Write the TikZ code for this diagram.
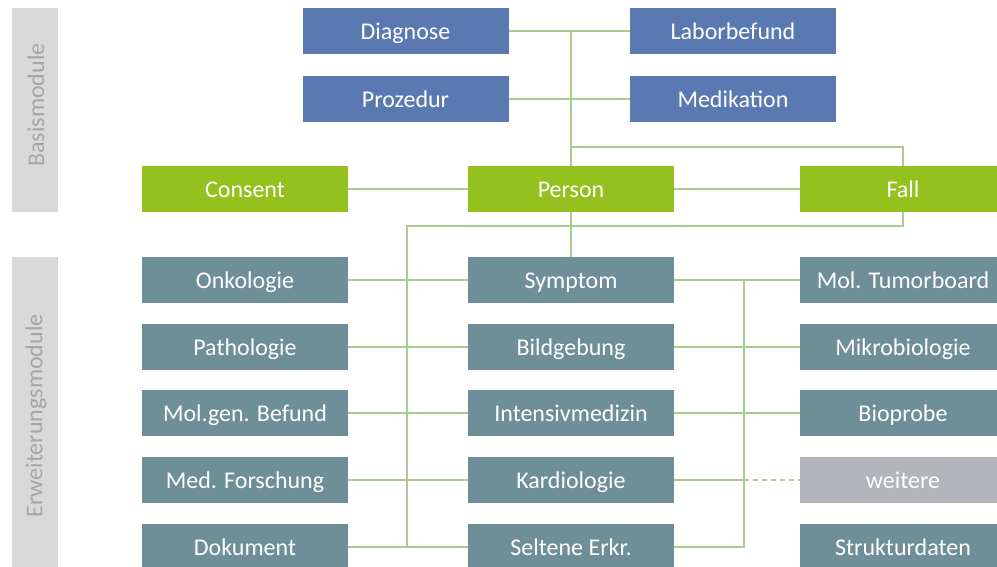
\documentclass[tikz,border=0pt]{standalone}
\usepackage{fontspec}
\setmainfont{Carlito}
\usetikzlibrary{positioning}

\definecolor{basisblue}{RGB}{91,121,177}
\definecolor{basisgreen}{RGB}{149,193,31}
\definecolor{erwteal}{RGB}{111,143,152}
\definecolor{weitergray}{RGB}{178,182,187}
\definecolor{barfill}{RGB}{217,217,217}
\definecolor{bartext}{RGB}{166,166,166}
\definecolor{linkgreen}{RGB}{169,203,143}

\tikzset{
  modbox/.style={rectangle, inner sep=0pt, minimum width=206pt, minimum height=46pt,
    text=white, text height=19pt, text depth=2pt, font=\fontsize{24}{28}\selectfont},
  basis/.style={modbox, fill=basisblue},
  kern/.style={modbox, fill=basisgreen},
  erw/.style={modbox, fill=erwteal},
  weiter/.style={modbox, fill=weitergray},
  sidebar/.style={fill=barfill},
  sidelabel/.style={text=bartext, rotate=90, font=\fontsize{24}{28}\selectfont},
  link/.style={draw=linkgreen, line width=1.6pt},
}

\begin{document}
\begin{tikzpicture}[x=1pt,y=-1pt]
    \useasboundingbox (0,0) rectangle (997,567);
    \begin{scope}
    \clip (0,0) rectangle (997,567);

    % side bars
    \fill[sidebar] (12,8) rectangle (58,212);
    \fill[sidebar] (12,257) rectangle (58,580);
    \node[sidelabel] (lbasis) at (36,105) {Basismodule};
    \node[sidelabel] (lerw) at (36,416) {Erweiterungsmodule};

    % Basismodule
    \node[basis] (diag) at (405.5,31) {Diagnose};
    \node[basis] (labor) at (733,31) {Laborbefund};
    \node[basis] (proz) at (405.5,99) {Prozedur};
    \node[basis] (medi) at (733,99) {Medikation};

    \node[kern] (consent) at (245,189) {Consent};
    \node[kern] (person) at (571,189) {Person};
    \node[kern] (fall) at (903,189) {Fall};

    % Erweiterungsmodule
    \node[erw] (onko) at (245,280) {Onkologie};
    \node[erw] (patho) at (245,347) {Pathologie};
    \node[erw] (molgen) at (245,413) {Mol.gen. Befund};
    \node[erw] (medfo) at (245,480) {Med. Forschung};
    \node[erw] (doku) at (245,547) {Dokument};

    \node[erw] (sympt) at (571,280) {Symptom};
    \node[erw] (bild) at (571,347) {Bildgebung};
    \node[erw] (intens) at (571,413) {Intensivmedizin};
    \node[erw] (kardio) at (571,480) {Kardiologie};
    \node[erw] (selten) at (571,547) {Seltene Erkr.};

    \node[erw] (tumor) at (903,280) {Mol. Tumorboard};
    \node[erw] (mikro) at (903,347) {Mikrobiologie};
    \node[erw] (bioprobe) at (903,413) {Bioprobe};
    \node[weiter] (weitere) at (903,480) {weitere};
    \node[erw] (struktur) at (903,547) {Strukturdaten};

    % junctions
    \coordinate (topjoin) at (571,147);
    \coordinate (leftrail) at (407,226);
    \coordinate (rightrail) at (744,280);

    % connectors
    \draw[link] (diag) -- (labor);
    \draw[link] (proz) -- (medi);
    \draw[link] (person.north) -- (person.north |- diag);
    \draw[link] (topjoin) -| (fall.north);
    \draw[link] (consent) -- (person);
    \draw[link] (person) -- (fall);
    \draw[link] (person.south) -- (sympt.north);
    \draw[link] (fall.south) |- (leftrail) |- (selten.west);
    \foreach \a/\b in {onko/sympt, patho/bild, molgen/intens, medfo/kardio, doku/selten}
        \draw[link] (\a) -- (\b);
    \foreach \a/\b in {sympt/tumor, mikro/bild, bioprobe/intens}
        \draw[link] (\a) -- (\b);
    \draw[link] (rightrail) |- (selten.east);
    \draw[link] (kardio.east) -- (kardio.east -| rightrail);
    \draw[link, dash pattern=on 5pt off 4pt] (kardio.east -| rightrail) -- (weitere.west);
    \end{scope}
\end{tikzpicture}
\end{document}
